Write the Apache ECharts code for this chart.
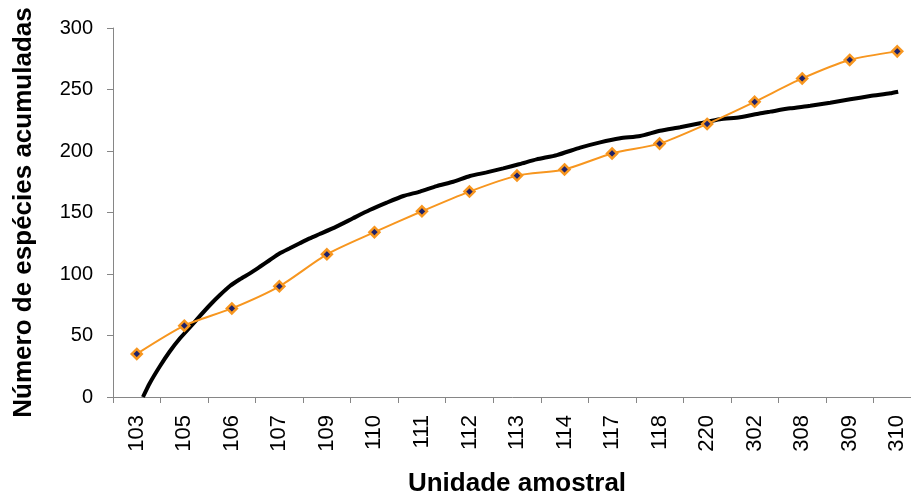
<!DOCTYPE html>
<html>
<head>
<meta charset="utf-8">
<script src="https://cdn.jsdelivr.net/npm/echarts@6/dist/echarts.min.js"></script>
<style>
  html, body { margin: 0; padding: 0; background: #fff; }
  #chart { width: 911px; height: 494px; }
</style>
</head>
<body>
<div id="chart"></div>
<script>
// Sampling units (x categories)
const units = ['103', '105', '106', '107', '109', '110', '111', '112', '113',
               '114', '117', '118', '220', '302', '308', '309', '310'];

// Accumulated species count per sampling unit (orange series)
const accumulated = [35, 58, 72, 90, 116, 134, 151, 167, 180,
                     185, 198, 206, 222, 240, 259, 274, 281];

// Fitted accumulation curve (black), positions in category-index units
const curveX = [0.13, 0.27, 0.48, 0.69, 0.91, 1.12, 1.33, 1.54, 1.75, 1.96,
                2.17, 2.38, 2.59, 2.80, 3.01, 3.22, 3.43, 3.64, 3.85, 4.20,
                4.55, 4.90, 5.26, 5.61, 5.96, 6.31, 6.66, 7.01, 7.36, 7.71,
                8.06, 8.41, 8.84, 9.33, 9.75, 10.17, 10.59, 11.01, 11.43, 11.85,
                12.27, 12.69, 13.10, 13.33, 13.75, 14.17, 14.59, 15.01, 15.43, 15.85,
                16.02];
const curveY = [0, 11, 24.6, 36.8, 47.7, 56.7, 65.9, 74.8, 82.9, 90.2,
                95.7, 100.5, 105.9, 111.4, 116.8, 120.9, 125, 129, 132.5, 138.5,
                145.3, 152, 158, 163.4, 167, 171.5, 175, 179.7, 182.6, 185.9,
                189.4, 193.2, 196.7, 202.7, 207, 210.3, 212.2, 216.5, 219.3, 222.5,
                225.8, 227.4, 230.5, 232, 234.7, 236.8, 239.3, 242, 244.7, 246.9,
                248.2];

// Y axis ticks
const yMin = 0, yMax = 300, yStep = 50;

const font = '"Liberation Sans", Arial, sans-serif';
const axisGray = '#868686';

const chart = echarts.init(document.getElementById('chart'), null, { renderer: 'canvas' });

chart.setOption({
  animation: false,
  backgroundColor: '#ffffff',
  grid: { left: 113, right: -10, top: 28, bottom: 97, containLabel: false, outerBoundsMode: 'none' },
  xAxis: [
    {
      type: 'category',
      data: units,
      boundaryGap: true,
      name: 'Unidade amostral',
      nameLocation: 'middle',
      nameGap: 74,
      nameTextStyle: { fontFamily: font, fontSize: 26, fontWeight: 'bold', color: '#000' },
      axisLine: { onZero: false, lineStyle: { color: axisGray, width: 1 } },
      axisTick: { show: true, length: 6, lineStyle: { color: axisGray } },
      axisLabel: { rotate: 90, margin: 18, fontFamily: font, fontSize: 22, color: '#000' },
      splitLine: { show: false }
    },
    {
      type: 'value',
      min: -0.5,
      max: 16.5,
      show: false
    }
  ],
  yAxis: {
    type: 'value',
    min: yMin,
    max: yMax,
    interval: yStep,
    name: 'Número de espécies acumuladas',
    nameLocation: 'middle',
    nameGap: 76,
    nameTextStyle: { fontFamily: font, fontSize: 26, fontWeight: 'bold', color: '#000' },
    axisLine: { show: true, onZero: false, lineStyle: { color: axisGray, width: 1 } },
    axisTick: { show: true, length: 6, lineStyle: { color: axisGray } },
    axisLabel: { margin: 20, fontFamily: font, fontSize: 20, color: '#000' },
    splitLine: { show: false }
  },
  series: [
    {
      name: 'Curva',
      type: 'line',
      xAxisIndex: 1,
      data: curveX.map((x, i) => [x, curveY[i]]),
      showSymbol: false,
      smooth: 0.2,
      lineStyle: { color: '#000000', width: 4 },
      z: 2
    },
    {
      name: 'Espécies acumuladas',
      type: 'line',
      xAxisIndex: 0,
      data: accumulated,
      smooth: 0.25,
      symbol: 'diamond',
      symbolSize: 10,
      itemStyle: { color: '#1f226a', borderColor: '#F7961F', borderWidth: 2.5 },
      lineStyle: { color: '#F7961F', width: 2 },
      z: 3
    }
  ]
});
</script>
</body>
</html>
